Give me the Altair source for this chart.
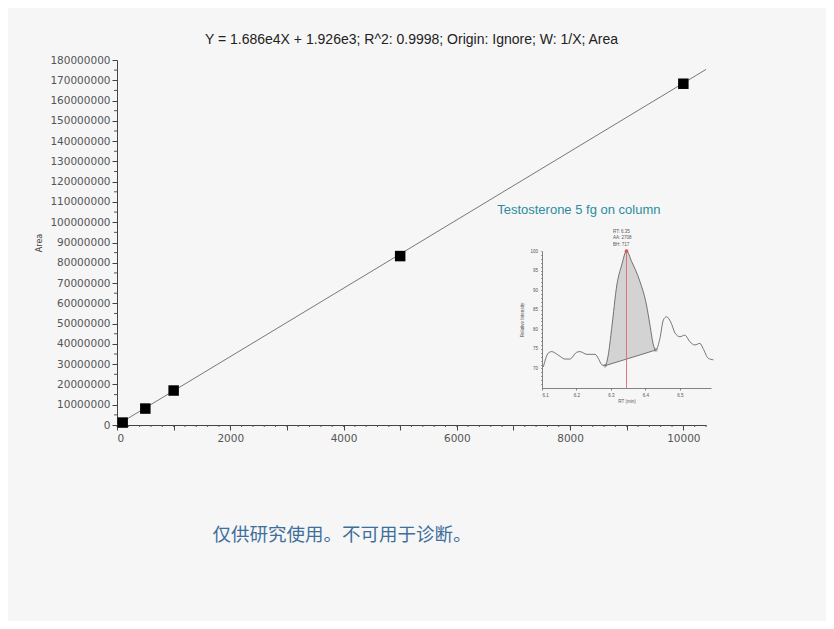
import altair as alt
import pandas as pd

# ---------------- data ----------------
conc = [100, 500, 1000, 5000, 10000]
area = [1200000, 8100000, 17000000, 83300000, 168300000]

fit_x = [0, 10400]
fit_y = [1926, 175346000]

x_major = [0, 1000, 2000, 3000, 4000, 5000, 6000, 7000, 8000, 9000, 10000]
x_minor = list(range(0, 10401, 200))
y_major = list(range(0, 180000001, 10000000))
y_minor = list(range(5000000, 180000000, 10000000))

rt = [6.104, 6.118, 6.128, 6.147, 6.167, 6.181, 6.200, 6.210, 6.230, 6.254, 6.263, 6.273,
      6.283, 6.292, 6.302, 6.317, 6.331, 6.345, 6.360, 6.384, 6.403, 6.413, 6.423, 6.430,
      6.442, 6.452, 6.461, 6.473, 6.486, 6.500, 6.514, 6.529, 6.543, 6.558, 6.567, 6.582, 6.597]
intensity = [70.4, 73.9, 74.3, 73.4, 72.4, 72.4, 74.1, 74.3, 73.6, 73.6, 72.6, 71.0,
             70.7, 73.4, 80.2, 91.3, 96.4, 100.0, 97.3, 92.2, 86.2, 81.1, 76.0, 74.7,
             77.7, 82.4, 83.2, 81.9, 79.0, 78.1, 78.5, 76.8, 76.0, 76.4, 75.1, 72.6, 72.2]
peak_start = 6.283
peak_end = 6.430
peak_rt = 6.345
base_start = 70.7
base_end = 74.7

inset_x_ticks = [6.1, 6.2, 6.3, 6.4, 6.5]
inset_y_ticks = list(range(66, 101, 1))

ann_rt = [5.97, 6.306, 6.306, 6.306]
ann_int = [109.5, 104.9, 103.2, 101.5]
ann_text = ["Testosterone 5 fg on column", "RT: 6.35", "AA: 2708", "BH: 717"]

title_text = "Y = 1.686e4X + 1.926e3; R^2: 0.9998; Origin: Ignore; W: 1/X; Area"
note_text = "仅供研究使用。不可用于诊断。"

# ---------------- layout ----------------
W, H = 589, 365
PAD = {"left": 109, "top": 52, "right": 120, "bottom": 196}

LBL_FONT = "DejaVu Sans"

xs = alt.Scale(domain=[0, 10400], nice=False, zero=False)
ys = alt.Scale(domain=[0, 180000000], nice=False, zero=False)

x_axis = alt.Axis(values=x_major, format="d",
                  labelExpr="datum.value % 2000 == 0 ? datum.label : ''",
                  grid=False, tickSize=5, tickColor="#444", domainColor="#444",
                  labelFont=LBL_FONT, labelFontSize=10.5, labelColor="#555",
                  labelPadding=3, title=None)
y_axis = alt.Axis(values=y_major, format="d", grid=False, tickSize=5,
                  tickColor="#444", domainColor="#444",
                  labelFont=LBL_FONT, labelFontSize=10.5, labelColor="#555",
                  labelPadding=2, title="Area", titleFont=LBL_FONT,
                  titleFontSize=8, titleFontWeight="normal", titleColor="#444",
                  titlePadding=6)

line_df = pd.DataFrame({"x": fit_x, "y": fit_y})
pts_df = pd.DataFrame({"x": conc, "y": area})

fit_line = alt.Chart(line_df).mark_line(color="#777", strokeWidth=1).encode(
    x=alt.X("x:Q", scale=xs, axis=x_axis),
    y=alt.Y("y:Q", scale=ys, axis=y_axis),
)
minor_x = alt.Chart(pd.DataFrame({"x": x_minor})).mark_rule(color="#555", strokeWidth=1).encode(
    x=alt.X("x:Q", scale=xs, axis=x_axis),
    y=alt.value(H), y2=alt.value(H + 2),
)
minor_y = alt.Chart(pd.DataFrame({"y": y_minor})).mark_rule(color="#555", strokeWidth=1).encode(
    y=alt.Y("y:Q", scale=ys, axis=y_axis),
    x=alt.value(-3), x2=alt.value(0),
)
points = alt.Chart(pts_df).mark_point(shape="square", filled=True, size=110,
                                      color="black", opacity=1).encode(
    x=alt.X("x:Q", scale=xs, axis=x_axis),
    y=alt.Y("y:Q", scale=ys, axis=y_axis),
)
main = alt.layer(fit_line, minor_x, minor_y, points)

# ---------------- inset ----------------
ixs = alt.Scale(domain=[6.1, 6.59], range=[425, 594], nice=False, zero=False)
iys = alt.Scale(domain=[65, 100], range=[328, 191], nice=False, zero=False)

ix_axis = alt.Axis(orient="bottom", offset=-(H - 328), values=inset_x_ticks, format=".1f",
                   grid=False, tickSize=2, tickColor="#666", domainColor="#666",
                   domainWidth=0.8, tickWidth=0.8,
                   labelFont="Liberation Sans", labelFontSize=4.5, labelColor="#555",
                   labelPadding=2, title="RT (min)", titleFont="Liberation Sans",
                   titleFontSize=4.5, titleFontWeight="normal", titleColor="#555",
                   titlePadding=2)
iy_axis = alt.Axis(orient="left", offset=-425, values=inset_y_ticks,
                   labelExpr="datum.value % 5 == 0 ? datum.label : ''",
                   grid=False, tickSize=1.5, tickColor="#666", domainColor="#666",
                   domainWidth=0.8, tickWidth=0.6,
                   labelFont="Liberation Sans", labelFontSize=4.5, labelColor="#555",
                   labelPadding=3, title="Relative Intensity", titleFont="Liberation Sans",
                   titleFontSize=4.5, titleFontWeight="normal", titleColor="#555",
                   titlePadding=5)

trace_df = pd.DataFrame({"rt": rt, "int": intensity})

IX = lambda: alt.X("rt:Q", scale=ixs, axis=ix_axis)
IY = lambda: alt.Y("int:Q", scale=iys, axis=iy_axis)

peak_area = alt.Chart(trace_df).transform_filter(
    (alt.datum.rt >= peak_start) & (alt.datum.rt <= peak_end)
).transform_calculate(
    base=f"{base_start} + (datum.rt - {peak_start}) * ({base_end} - {base_start}) / ({peak_end} - {peak_start})"
).mark_area(color="#cfcfcf", opacity=0.9, interpolate="monotone").encode(
    x=IX(), y=IY(), y2="base:Q"
)
base_line = alt.Chart(pd.DataFrame({"rt": [peak_start, peak_end],
                                    "int": [base_start, base_end]})).mark_line(
    color="#555", strokeWidth=0.8).encode(x=IX(), y=IY())
trace = alt.Chart(trace_df).mark_line(color="#555", strokeWidth=0.8,
                                      interpolate="monotone").encode(x=IX(), y=IY())
red_rule = alt.Chart(pd.DataFrame({"rt": [peak_rt], "int": [100], "int2": [65]})).mark_rule(
    color="#e06a6a", strokeWidth=0.9).encode(x=IX(), y=IY(), y2="int2:Q")
peak_dot = alt.Chart(pd.DataFrame({"rt": [peak_rt], "int": [100]})).mark_point(
    filled=True, color="#d9534f", size=14, opacity=1).encode(x=IX(), y=IY())
base_dots = alt.Chart(pd.DataFrame({"rt": [peak_start, peak_end],
                                    "int": [base_start, base_end]})).mark_point(
    color="#666", size=8, strokeWidth=0.7).encode(x=IX(), y=IY())

ann_df = pd.DataFrame({"rt": ann_rt[1:], "int": ann_int[1:], "t": ann_text[1:]})
ann = alt.Chart(ann_df).mark_text(align="left", baseline="middle", fontSize=4.5,
                                  font="Liberation Sans", color="#555").encode(
    x=IX(), y=IY(), text="t:N")
head_df = pd.DataFrame({"rt": ann_rt[:1], "int": ann_int[:1], "t": ann_text[:1]})
head = alt.Chart(head_df).mark_text(align="left", baseline="alphabetic", fontSize=13,
                                    font="Liberation Sans", color="#2b8c9e").encode(
    x=IX(), y=IY(), text="t:N")

inset = alt.layer(peak_area, base_line, trace, red_rule, peak_dot, base_dots, ann, head)

note = alt.Chart(pd.DataFrame({"t": [note_text]})).mark_text(
    align="center", baseline="middle", fontSize=18.5, font="Noto Sans CJK SC",
    color="#3d6f9c").encode(x=alt.value(225), y=alt.value(475), text="t:N")

chart = alt.layer(main, inset, note).resolve_scale(
    x="independent", y="independent"
).resolve_axis(
    x="independent", y="independent"
).properties(
    width=W, height=H,
    padding=PAD,
    autosize=alt.AutoSizeParams(type="none"),
    background="#f6f6f6",
    title=alt.TitleParams(title_text, font="Liberation Sans", fontSize=14,
                          fontWeight="normal", color="#222", anchor="middle", offset=8),
).configure_view(strokeWidth=0)

chart.save("out.html", embed_options={"renderer": "svg", "actions": False})
